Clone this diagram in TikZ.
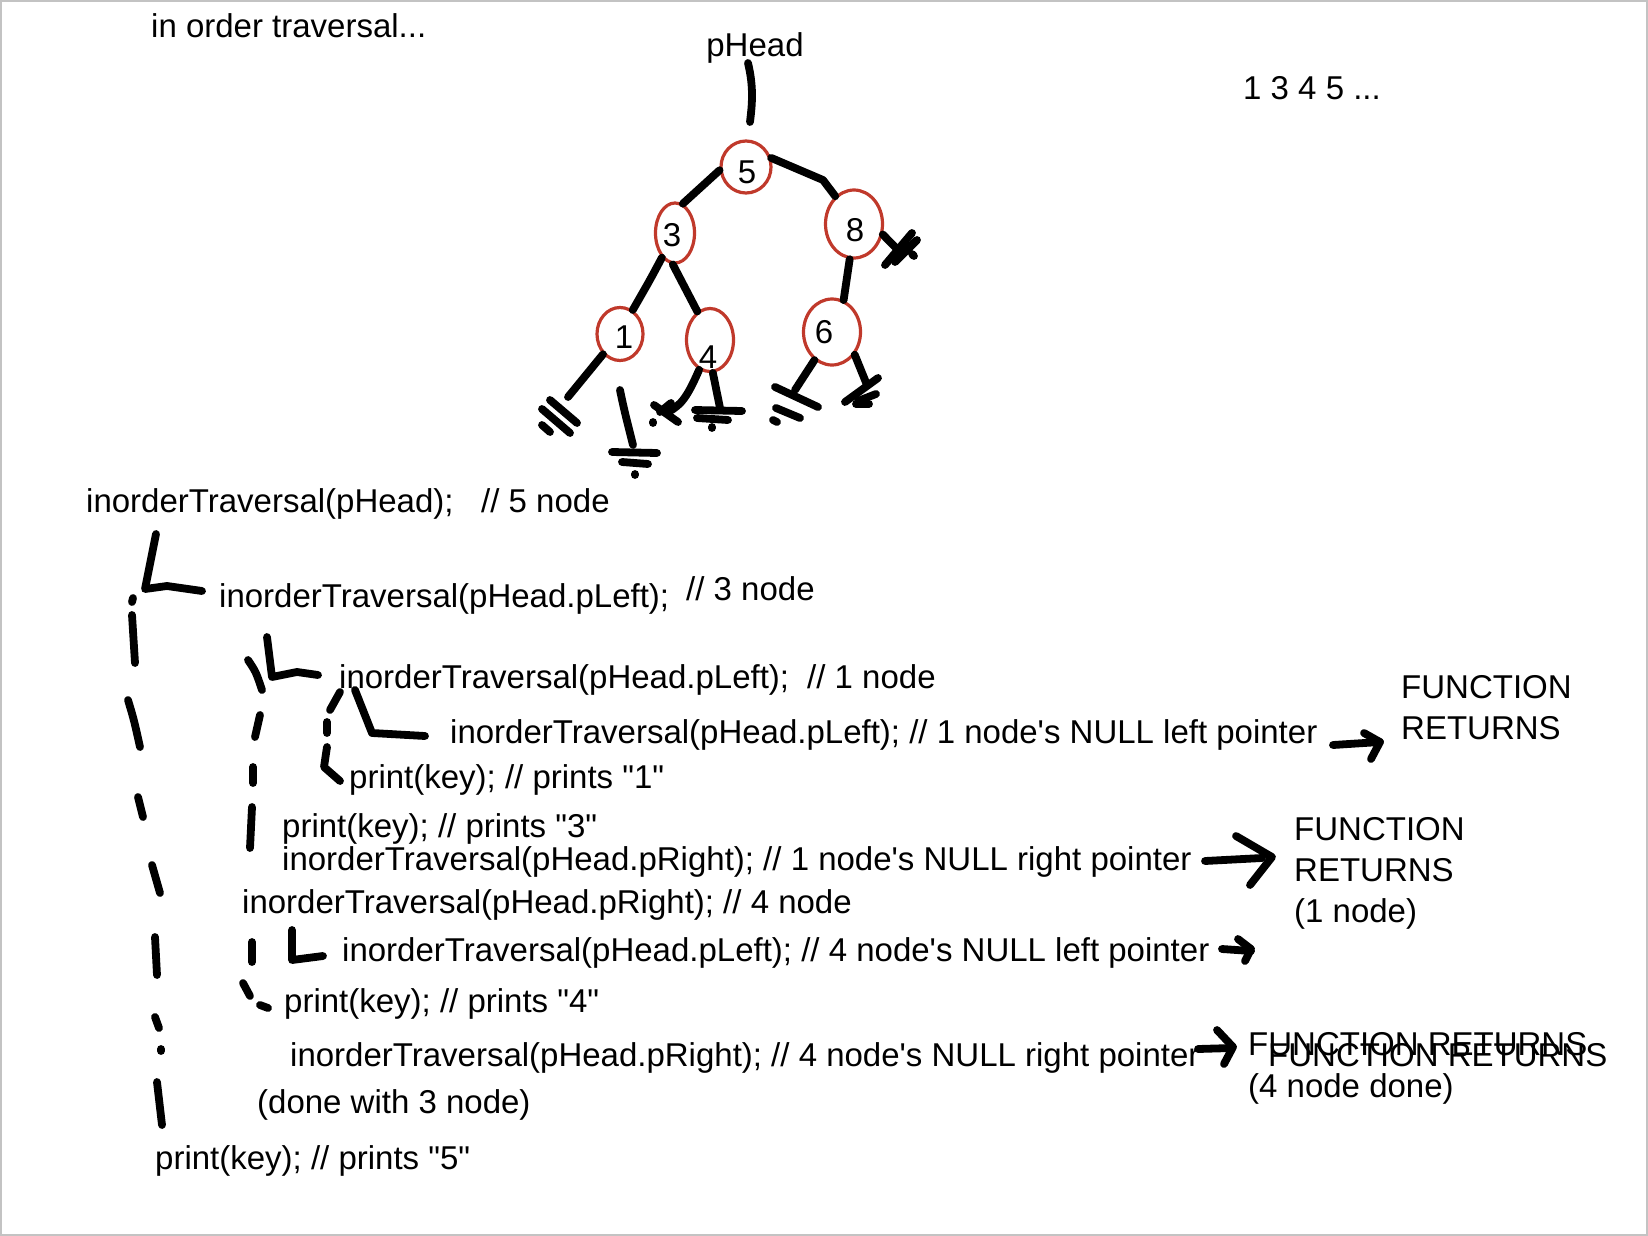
\documentclass[tikz,border=0pt]{standalone}
\usepackage{fontspec}
\setmainfont{Liberation Sans}[Ligatures=TeXOff]
\usetikzlibrary{shapes.geometric}
\definecolor{nodered}{RGB}{192,57,43}
\definecolor{framegray}{RGB}{195,195,195}
\tikzset{
  txt/.style={anchor=base west, inner sep=0pt, font=\fontsize{33}{39}\selectfont},
  lab/.style={inner sep=0pt, font=\fontsize{33}{39}\selectfont},
  tnode/.style={ellipse, draw=nodered, line width=3.2pt, inner sep=0pt},
  ink/.style={line width=7.8pt, line cap=round, line join=round, black},
}
\begin{document}
\begin{tikzpicture}[x=1pt,y=-1pt]
\useasboundingbox (0,0) rectangle (1648,1236);
\draw[framegray, line width=2pt] (1,1) rectangle (1647,1235);

% headings
\node[txt] (title) at (151,38) {in order traversal...};
\node[lab, anchor=base] (phead) at (755,57) {pHead};
\node[txt] (seq) at (1243,100) {1 3 4 5 ...};

% tree nodes
\node[tnode, minimum width=50pt, minimum height=52pt] (n5) at (746,167) {};
\node[tnode, minimum width=39pt, minimum height=60pt] (n3) at (675,233) {};
\node[tnode, minimum width=57pt, minimum height=68pt] (n8) at (854,224) {};
\node[tnode, minimum width=46pt, minimum height=53pt] (n1) at (620,334) {};
\node[tnode, minimum width=47pt, minimum height=63pt] (n4) at (710,340) {};
\node[tnode, minimum width=57pt, minimum height=66pt] (n6) at (832,332) {};
\node[lab] (l5) at (747,172) {5};
\node[lab] (l3) at (672,235) {3};
\node[lab] (l8) at (855,230) {8};
\node[lab] (l1) at (624,337) {1};
\node[lab] (l4) at (708,357) {4};
\node[lab] (l6) at (824,332) {6};

% tree edges
\draw[ink] (748,63) .. controls (754,88) and (752,105) .. (750,122);
\draw[ink] (n5.187) -- (n3.75);
\draw[ink] (n5.20) -- (823,180) -- (n8.124);
\draw[ink] (n3.242) .. controls (650,280) .. (n1.62);
\draw[ink] (n3.266) -- (n4.114);
\draw[ink] (n8.263) -- (n6.70);

% null marks
\draw[ink] (n8.-20) -- (898,250);
\draw[ink] (885,265) -- (912,233);
\draw[ink] (895,262) -- (917,240);
\draw[ink] (912,254) -- (914,256);

\draw[ink] (n1.230) -- (568,397);
\draw[ink] (550,400) -- (577,423);
\draw[ink] (542,409) -- (570,433);
\draw[ink] (542,425) -- (550,432);

\draw[ink] (620,390) .. controls (624,410) and (628,425) .. (633,445);
\draw[ink] (612,452) -- (657,453);
\draw[ink] (622,462) -- (648,464);
\draw[ink] (635,474) -- (635,475);

\draw[ink] (n4.250) .. controls (688,395) and (682,405) .. (668,412);
\draw[ink] (654,405) -- (678,422);
\draw[ink] (660,412) -- (671,403);
\draw[ink] (653,422) -- (653,423);

\draw[ink] (n4.275) -- (720,408);
\draw[ink] (695,410) -- (742,411);
\draw[ink] (697,418) -- (728,420);
\draw[ink] (712,427) -- (712,428);

\draw[ink] (n6.238) -- (795,390);
\draw[ink] (775,387) -- (818,407);
\draw[ink] (776,408) -- (800,418);
\draw[ink] (773,420) -- (777,422);

\draw[ink] (n6.-45) -- (867,385);
\draw[ink] (845,402) -- (878,378);
\draw[ink] (858,401) -- (876,394);
\draw[ink] (856,404) -- (869,404);

% code lines
\node[txt] (c1) at (86,512) {inorderTraversal(pHead);};
\node[txt] (c1c) at (481,512) {// 5 node};
\node[txt] (c2) at (219,607) {inorderTraversal(pHead.pLeft);};
\node[txt] (c2c) at (686,600) {// 3 node};
\node[txt] (c3) at (339,688) {inorderTraversal(pHead.pLeft);};
\node[txt] (c3c) at (807,688) {// 1 node};
\node[txt] (c4) at (450,743) {inorderTraversal(pHead.pLeft); // 1 node's NULL left pointer};
\node[txt] (f1a) at (1401,698) {FUNCTION};
\node[txt] (f1b) at (1401,739) {RETURNS};
\node[txt] (c5) at (349,788) {print(key); // prints "1"};
\node[txt] (c6) at (282,837) {print(key); // prints "3"};
\node[txt] (c7) at (282,870) {inorderTraversal(pHead.pRight); // 1 node's NULL right pointer};
\node[txt] (f2a) at (1294,840) {FUNCTION};
\node[txt] (f2b) at (1294,881) {RETURNS};
\node[txt] (f2c) at (1294,922) {(1 node)};
\node[txt] (c8) at (242,913) {inorderTraversal(pHead.pRight); // 4 node};
\node[txt] (c9) at (342,961) {inorderTraversal(pHead.pLeft); // 4 node's NULL left pointer};
\node[txt] (c10) at (284,1012) {print(key); // prints "4"};
\node[txt] (c11) at (290,1066) {inorderTraversal(pHead.pRight); // 4 node's NULL right pointer};
\node[txt] (f3a) at (1248,1055) {FUNCTION RETURNS};
\node[txt] (f3b) at (1268,1066) {FUNCTION RETURNS};
\node[txt] (f3c) at (1248,1097) {(4 node done)};
\node[txt] (c12) at (257,1113) {(done with 3 node)};
\node[txt] (c13) at (155,1169) {print(key); // prints "5"};

% call-structure strokes
\draw[ink] (156,534) -- (145,589) -- (167,586) -- (202,591);
\draw[ink] (133,598) -- (132,602);
\draw[ink] (132,615) -- (135,663);
\draw[ink] (128,700) .. controls (134,720) .. (140,747);
\draw[ink] (138,797) -- (143,817);
\draw[ink] (152,865) -- (160,893);
\draw[ink] (155,937) -- (157,975);
\draw[ink] (155,1017) -- (159,1028);
\draw[ink] (161,1049) -- (161,1051);
\draw[ink] (157,1082) -- (162,1125);

\draw[ink] (267,637) -- (272,677) -- (297,672) -- (318,675);
\draw[ink] (248,660) .. controls (256,672) .. (262,690);
\draw[ink] (260,715) -- (255,737);
\draw[ink] (253,767) -- (253,783);
\draw[ink] (252,807) -- (250,848);
\draw[ink] (252,942) -- (252,962);
\draw[ink] (243,983) -- (250,996);
\draw[ink] (260,1005) -- (268,1008);

\draw[ink] (355,690) -- (372,733) -- (425,736);
\draw[ink] (340,692) -- (330,710);
\draw[ink] (327,722) -- (327,733);
\draw[ink] (327,747) -- (324,767) -- (340,781);

\draw[ink] (292,930) -- (292,960) -- (323,956);

% arrows
\draw[ink] (1333,745) -- (1380,742);
\draw[ink] (1364,733) -- (1380,742) -- (1371,759);
\draw[ink] (1205,861) -- (1262,858);
\draw[ink] (1236,836) -- (1272,857) -- (1250,885);
\draw[ink] (1222,949) -- (1251,951);
\draw[ink] (1238,939) -- (1251,949) -- (1245,961);
\draw[ink] (1198,1049) -- (1232,1048);
\draw[ink] (1217,1030) -- (1233,1047) -- (1224,1064);
\end{tikzpicture}
\end{document}
